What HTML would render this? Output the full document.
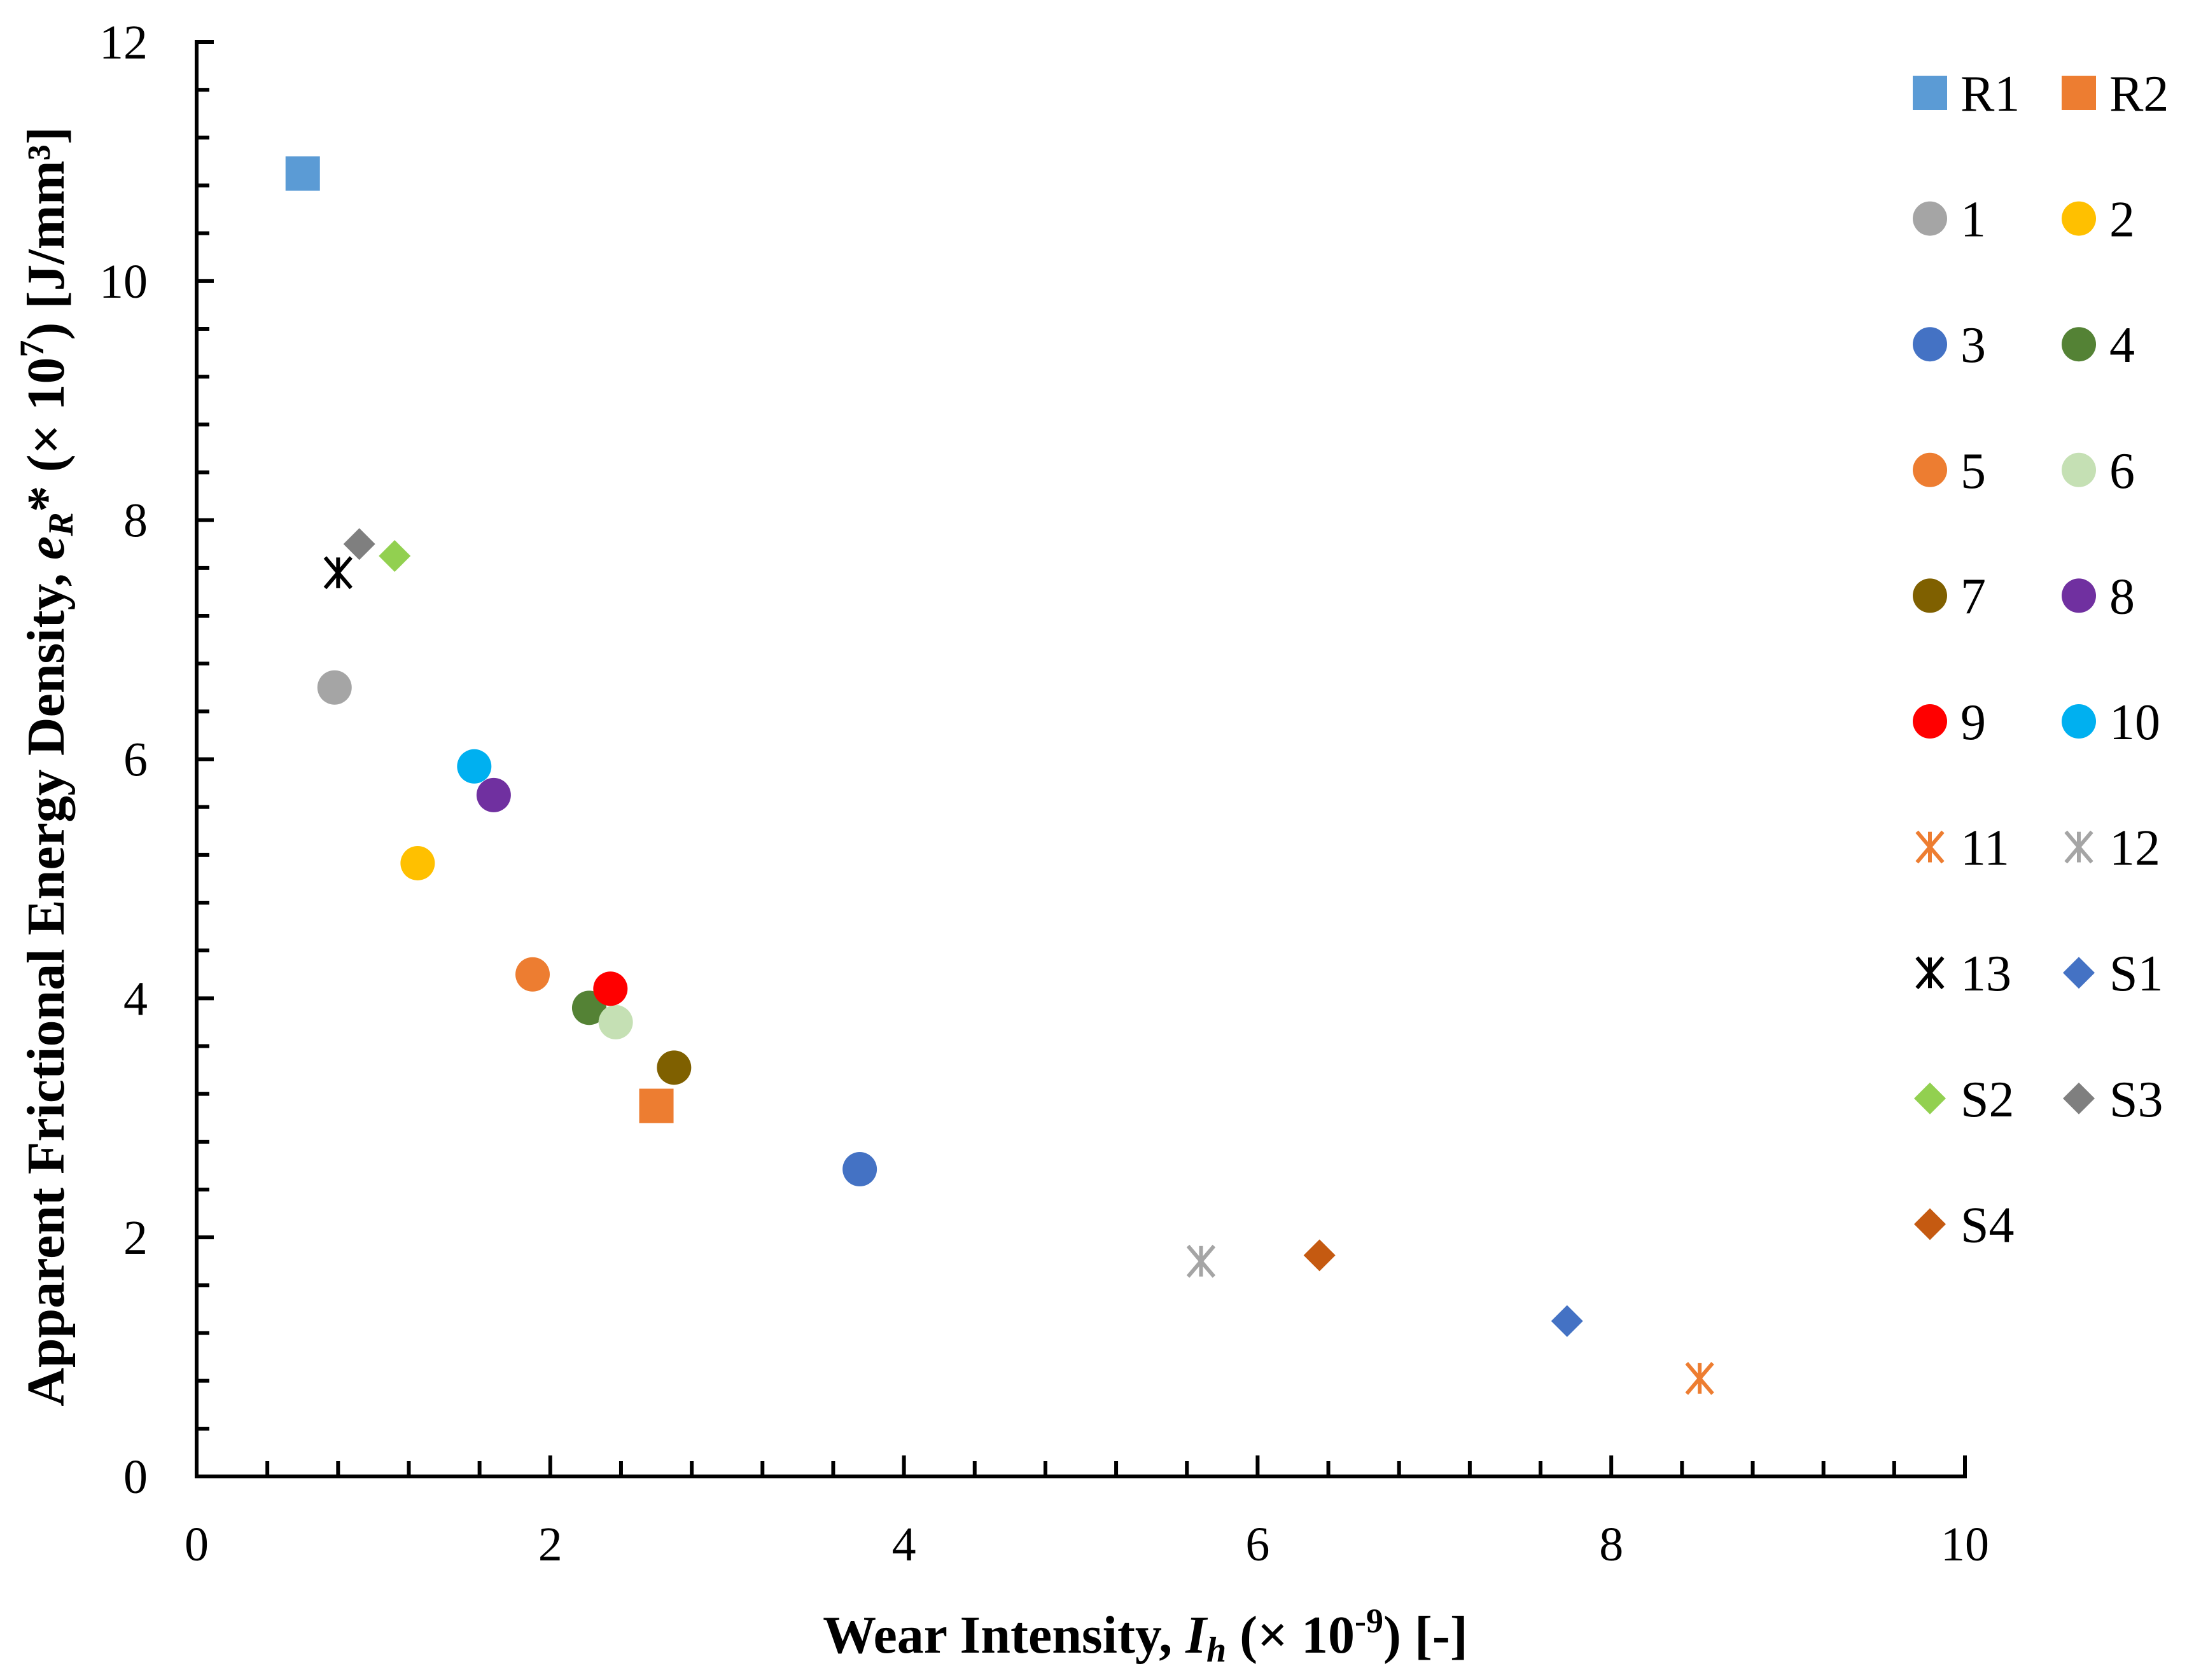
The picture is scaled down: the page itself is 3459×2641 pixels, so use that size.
<!DOCTYPE html>
<html><head><meta charset="utf-8"><style>
html,body{margin:0;padding:0;background:#fff}
svg{display:block;font-family:"Liberation Serif",serif}
</style></head><body>
<svg id="chart" width="3459" height="2641" viewBox="0 0 3459 2641" xmlns="http://www.w3.org/2000/svg">
<g id="axes"></g>
<g id="marks"></g>
<g id="legend"></g>
<text x="1800" y="2598" text-anchor="middle" font-size="84" font-weight="bold">Wear Intensity, <tspan font-style="italic">I</tspan><tspan font-style="italic" font-size="56" dy="14">h</tspan><tspan dy="-14"> (× 10</tspan><tspan font-size="54" dy="-32">-9</tspan><tspan dy="32">) [-]</tspan></text>
<text transform="translate(100,1205) rotate(-90)" text-anchor="middle" font-size="84" font-weight="bold">Apparent Frictional Energy Density, <tspan font-style="italic">e</tspan><tspan font-style="italic" font-size="56" dy="14">R</tspan><tspan dy="-14">* (× 10</tspan><tspan font-size="54" dy="-32">7</tspan><tspan dy="32">) [J/mm³]</tspan></text>
</svg>
<script>
const names=["R1","R2","1","2","3","4","5","6","7","8","9","10","11","12","13","S1","S2","S3","S4"];
const xVals=[0.6,2.6,0.78,1.25,3.75,2.22,1.9,2.37,2.7,1.68,2.34,1.57,8.5,5.68,0.8,7.75,1.12,0.92,6.35];
const yVals=[10.9,3.1,6.6,5.13,2.57,3.92,4.2,3.8,3.42,5.7,4.08,5.94,0.82,1.8,7.56,1.3,7.7,7.8,1.85];
const shapes=["square","square","circle","circle","circle","circle","circle","circle","circle","circle","circle","circle","star","star","star","diamond","diamond","diamond","diamond"];
const colors=["#5B9BD5","#ED7D31","#A5A5A5","#FFC000","#4472C4","#548235","#ED7D31","#C5E0B4","#7F6000","#7030A0","#FF0000","#00B0F0","#ED7D31","#A5A5A5","#000000","#4472C4","#92D050","#7F7F7F","#C55A11"];
const xTicks=[0,2,4,6,8,10];
const yTicks=[0,2,4,6,8,10,12];

const NS="http://www.w3.org/2000/svg";
const X0=309,X1=3088,Y0=2321,Y1=66;
const sx=v=>X0+(X1-X0)*v/10;
const sy=v=>Y0-(Y0-Y1)*v/12;
function mk(tag,attrs,parent){const e=document.createElementNS(NS,tag);for(const k in attrs)e.setAttribute(k,attrs[k]);parent.appendChild(e);return e;}
const axes=document.getElementById('axes');
let l=mk('line',{x1:X0,y1:Y1-3,x2:X0,y2:Y0+3,stroke:'#000','stroke-width':6},axes);


l=mk('line',{x1:X0-3,y1:Y0,x2:X1+3,y2:Y0,stroke:'#000','stroke-width':6},axes);


for(let i=0;i<=30;i++){const v=i*0.4;const maj=i%5==0;
 const t=mk('line',{x1:X0,y1:sy(v),x2:X0+(maj?27:20),y2:sy(v),stroke:'#000','stroke-width':6},axes);
 
 }
for(let i=0;i<=25;i++){const v=i*0.4;const maj=i%5==0;
 const t=mk('line',{x1:sx(v),y1:Y0,x2:sx(v),y2:Y0-(maj?33:24),stroke:'#000','stroke-width':6},axes);
 
 }
yTicks.forEach(v=>{const t=mk('text',{x:232,y:sy(v)+26,'text-anchor':'end','font-size':76},axes);t.textContent=v;
 
 });
xTicks.forEach(v=>{const t=mk('text',{x:sx(v),y:2453,'text-anchor':'middle','font-size':76},axes);t.textContent=v;
 
 });

function marker(shape,cx,cy,col,parent){
 let e;
 if(shape==='square'){e=mk('rect',{x:cx-27,y:cy-27,width:54,height:54,fill:col},parent);}
 else if(shape==='circle'){e=mk('circle',{cx:cx,cy:cy,r:27,fill:col},parent);}
 else if(shape==='diamond'){e=mk('polygon',{points:`${cx},${cy-25} ${cx+25},${cy} ${cx},${cy+25} ${cx-25},${cy}`,fill:col},parent);}
 else {const r=24;e=mk('path',{d:`M${cx-r*0.85},${cy-r} L${cx+r*0.85},${cy+r} M${cx+r*0.85},${cy-r} L${cx-r*0.85},${cy+r} M${cx},${cy-r} L${cx},${cy+r}`,stroke:col,'stroke-width':6,fill:'none'},parent);}
 return e;
}
const marks=document.getElementById('marks');
names.forEach((n,i)=>{const e=marker(shapes[i],sx(xVals[i]),sy(yVals[i]),colors[i],marks);
 
 });
const leg=document.getElementById('legend');
names.forEach((n,i)=>{const col=i%2,row=Math.floor(i/2);
 const mx=col?3267:3033,my=146+197.6*row;
 const g=mk('g',{},leg);
 
 
 marker(shapes[i],mx,my,colors[i],g);
 const t=mk('text',{x:mx+48,y:my+28,'font-size':80},g);t.textContent=n;});
</script>
</body></html>
